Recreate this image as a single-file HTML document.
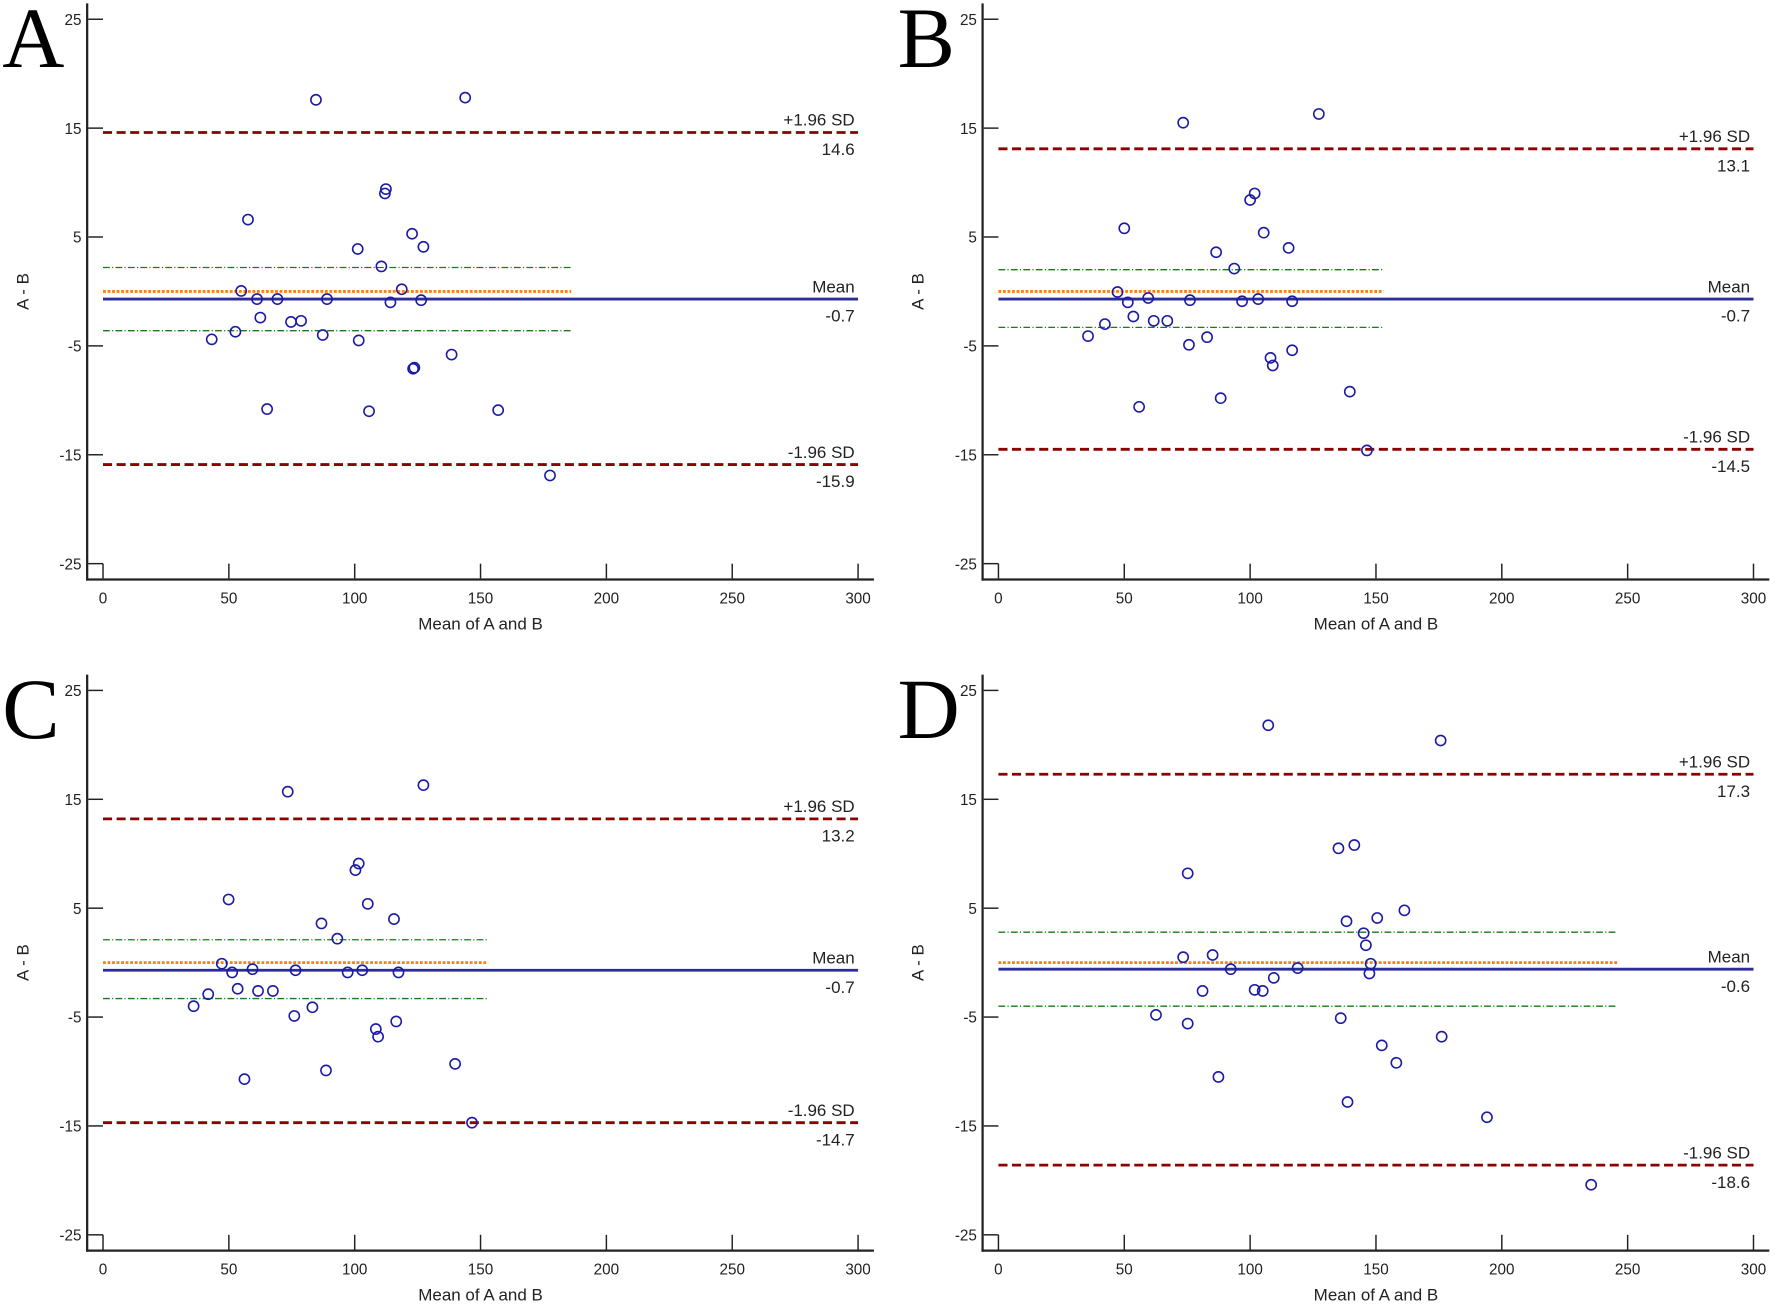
<!DOCTYPE html>
<html><head><meta charset="utf-8"><style>
html,body{margin:0;padding:0;background:#fff;}
svg{display:block;}
text{font-family:"Liberation Sans",sans-serif;fill:#222;}
</style></head><body>
<svg id="chart" width="1775" height="1305" viewBox="0 0 1568 1153" preserveAspectRatio="none" xmlns="http://www.w3.org/2000/svg"></svg>
<script>
const panelNames = ["A","B","C","D"];
const xTicks = [0,50,100,150,200,250,300];
const yTicks = [25,15,5,-5,-15,-25];
const xA = [84.6,143.9,112.4,112,57.6,122.8,101.2,127.3,110.6,54.9,118.7,61.2,69.3,89,114.2,126.4,62.5,74.7,78.7,52.6,43.2,87.3,101.6,138.5,123.2,123.7,65.2,105.7,157,177.6];
const yA = [17.6,17.8,9.4,9.0,6.6,5.3,3.9,4.1,2.3,0.05,0.2,-0.7,-0.7,-0.7,-1.0,-0.8,-2.4,-2.8,-2.7,-3.7,-4.4,-4.0,-4.5,-5.8,-7.1,-7.0,-10.8,-11,-10.9,-16.9];
const xB = [73.4,127.3,101.8,100,50,105.4,115.3,86.5,93.7,47.3,51.4,59.5,76.1,96.8,103.2,116.7,53.6,42.3,61.7,67.1,35.6,82.9,75.7,116.7,108.1,109,88.3,139.6,55.9,146.4];
const yB = [15.5,16.3,9.0,8.4,5.8,5.4,4.0,3.6,2.1,-0.05,-1.0,-0.6,-0.8,-0.9,-0.7,-0.9,-2.3,-3.0,-2.7,-2.7,-4.1,-4.2,-4.9,-5.4,-6.1,-6.8,-9.8,-9.2,-10.6,-14.6];
const xC = [73.4,127.3,101.6,100.3,49.9,105.2,115.6,86.8,93.1,47.2,51.3,59.4,76.5,97.2,103,117.4,53.5,41.8,61.6,67.5,36,83.2,76,116.5,108.4,109.3,88.6,139.9,56.2,146.6];
const yC = [15.7,16.3,9.1,8.5,5.8,5.4,4.0,3.6,2.2,-0.1,-0.9,-0.6,-0.7,-0.9,-0.7,-0.9,-2.4,-2.9,-2.6,-2.6,-4.0,-4.1,-4.9,-5.4,-6.1,-6.8,-9.9,-9.3,-10.7,-14.7];
const xD = [107.2,175.7,141.4,135.1,75.2,161.3,150.5,138.3,145.1,146,73.4,85.1,147.9,92.3,118.9,147.4,109.4,81.1,101.8,105,62.6,136,75.2,176.1,152.3,158.1,87.4,138.7,194.1,235.5];
const yD = [21.8,20.4,10.8,10.5,8.2,4.8,4.1,3.8,2.7,1.6,0.5,0.7,-0.1,-0.6,-0.5,-1.0,-1.4,-2.6,-2.5,-2.6,-4.8,-5.1,-5.6,-6.8,-7.6,-9.2,-10.5,-12.8,-14.2,-20.4];
const upperSD = [14.6,13.1,13.2,17.3];
const meanDiff = [-0.7,-0.7,-0.7,-0.6];
const lowerSD = [-15.9,-14.5,-14.7,-18.6];
const ciHigh = [2.2,2.0,2.1,2.8];
const ciLow = [-3.6,-3.3,-3.3,-4.0];
const zeroLine = [0,0,0,0];
const ciExtent = [186,153,153,246];

const xs=[xA,xB,xC,xD], ys=[yA,yB,yC,yD];
const NS="http://www.w3.org/2000/svg";
const svg=document.getElementById('chart');
function mk(tag,attrs,parent){const e=document.createElementNS(NS,tag);for(const k in attrs)e.setAttribute(k,attrs[k]);(parent||svg).appendChild(e);return e;}

panelNames.forEach((p,i)=>{
  const ox=(i%2)*791, oy=Math.floor(i/2)*593;
  const X=v=>ox+91+v/300*667;
  const Y=v=>oy+17+(25-v)/50*481;
  const g=mk('g',{});
  
  
  const lt=mk('text',{x:ox+2,y:oy+59,'font-size':76,style:'font-family:"Liberation Serif",serif;fill:#000'},g);
  lt.textContent=p;
  
  
  const ya=mk('line',{x1:ox+77,y1:oy+3,x2:ox+77,y2:oy+513,stroke:'#222','stroke-width':2},g);
  
  
  const xa=mk('line',{x1:ox+76,y1:oy+512,x2:ox+772,y2:oy+512,stroke:'#222','stroke-width':2},g);
  
  
  yTicks.forEach(t=>{
    mk('line',{x1:ox+78,y1:Y(t),x2:X(0),y2:Y(t),stroke:'#222','stroke-width':1.3},g);
    const tx=mk('text',{x:ox+72,y:Y(t)+5,'font-size':13.5,'text-anchor':'end'},g);
    tx.textContent=t;
    
    
  });
  xTicks.forEach(t=>{
    mk('line',{x1:X(t),y1:oy+511,x2:X(t),y2:Y(-25),stroke:'#222','stroke-width':1.3},g);
    const tx=mk('text',{x:X(t),y:oy+533,'font-size':13.5,'text-anchor':'middle'},g);
    tx.textContent=t;
    
    
  });
  const xt=mk('text',{x:X(150),y:oy+556,'font-size':15,'text-anchor':'middle'},g);
  xt.textContent='Mean of A and B';
  
  
  const yt=mk('text',{x:0,y:0,'font-size':15,'text-anchor':'middle',transform:`translate(${ox+25},${Y(0)}) rotate(-90)`},g);
  yt.textContent='A - B';
  
  
  const c1=mk('line',{x1:X(0),y1:Y(ciHigh[i]),x2:X(ciExtent[i]),y2:Y(ciHigh[i]),stroke:'#1a7a1a','stroke-width':1.2,'stroke-dasharray':'6 2 1 2'},g);
  
  
  const c2=mk('line',{x1:X(0),y1:Y(ciLow[i]),x2:X(ciExtent[i]),y2:Y(ciLow[i]),stroke:'#1a7a1a','stroke-width':1.2,'stroke-dasharray':'6 2 1 2'},g);
  
  
  const z=mk('line',{x1:X(0),y1:Y(zeroLine[i]),x2:X(ciExtent[i]),y2:Y(zeroLine[i]),stroke:'#ff7f0e','stroke-width':2.5,'stroke-dasharray':'2.5 1.5'},g);
  
  
  const m=mk('line',{x1:X(0),y1:Y(meanDiff[i]),x2:X(300),y2:Y(meanDiff[i]),stroke:'#2b2b9a','stroke-width':2.5},g);
  
  
  const u=mk('line',{x1:X(0),y1:Y(upperSD[i]),x2:X(300),y2:Y(upperSD[i]),stroke:'#8b0000','stroke-width':2.5,'stroke-dasharray':'8 4'},g);
  
  
  const l=mk('line',{x1:X(0),y1:Y(lowerSD[i]),x2:X(300),y2:Y(lowerSD[i]),stroke:'#8b0000','stroke-width':2.5,'stroke-dasharray':'8 4'},g);
  
  
  const labs=[['+1.96 SD',upperSD[i]],['Mean',meanDiff[i]],['-1.96 SD',lowerSD[i]]];
  labs.forEach(([name,v])=>{
    const a=mk('text',{x:X(300)-3,y:Y(v)-6,'font-size':15,'text-anchor':'end'},g);
    a.textContent=name;
    
    
    const b=mk('text',{x:X(300)-3,y:Y(v)+20,'font-size':15,'text-anchor':'end'},g);
    b.textContent=v.toFixed(1);
    
    
  });
  xs[i].forEach((xv,j)=>{
    const c=mk('circle',{cx:X(xv),cy:Y(ys[i][j]),r:4.5,fill:'none',stroke:'#1a1aa6','stroke-width':1.4},g);
    
    
  });
});
</script>
</body></html>
